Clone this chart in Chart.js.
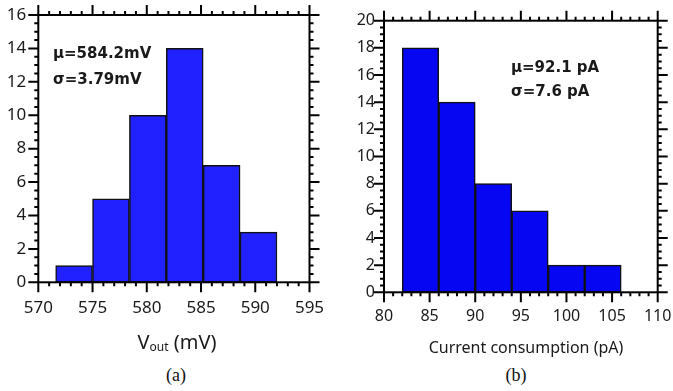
<!DOCTYPE html>
<html>
<head>
<meta charset="utf-8">
<script src="https://cdn.jsdelivr.net/npm/chart.js@4.4.1/dist/chart.umd.min.js"></script>
<style>
  html, body { margin: 0; padding: 0; background: #fff; }
  #wrap { position: relative; width: 673px; height: 391px; overflow: hidden; }
  .box { position: absolute; top: 0; height: 330px; }
  .stat { position: absolute; font: bold 15px "DejaVu Sans", sans-serif; color: #1a1a1a; white-space: nowrap; }
  .xt { position: absolute; width: 260px; text-align: center; font-family: "Noto Sans", sans-serif; color: #1a1a1a; white-space: nowrap; }
  .cap { position: absolute; width: 60px; text-align: center; font: 18px/18px "Liberation Serif", serif; color: #111; }
</style>
</head>
<body>
<div id="wrap">
  <div class="box" style="left:0;width:340px"><canvas id="chartA"></canvas></div>
  <div class="box" style="left:340px;width:333px"><canvas id="chartB"></canvas></div>

  <div class="stat" style="left:53px;top:40px;line-height:26px">μ=584.2mV<br>σ=3.79mV</div>
  <div class="stat" style="left:511px;top:55px;line-height:24px">μ=92.1 pA<br>σ=7.6 pA</div>

  <div class="xt" style="left:47px;top:332px;font-size:20px;line-height:20px">V<span style="font-size:12px;position:relative;top:2px">out</span> (mV)</div>
  <div class="xt" style="left:396px;top:339px;font-size:16px;line-height:16px">Current consumption (pA)</div>

  <div class="cap" style="left:146px;top:366px">(a)</div>
  <div class="cap" style="left:486px;top:366px">(b)</div>
</div>

<script>
// left panel: output voltage histogram
const voutCenters = [573.3, 576.7, 580.1, 583.5, 586.9, 590.3]; // bin centres, mV
const voutCounts = [1, 5, 10, 14, 7, 3];

// right panel: current consumption histogram
const currCenters = [84, 88, 92, 96, 100, 104]; // bin centres, pA
const currCounts = [18, 14, 8, 6, 2, 2];

// frame with outward major/minor ticks on all four sides
const frameTicks = {
    id: 'frameTicks',
    afterDatasetsDraw(chart, args, opts) {
        const ctx = chart.ctx;
        const a = chart.chartArea;
        const x = chart.scales.x, y = chart.scales.y;
        const isMajor = (v, step) => Math.abs(v / step - Math.round(v / step)) < 1e-6;
        ctx.save();
        ctx.strokeStyle = '#000';
        ctx.lineWidth = 2;
        ctx.strokeRect(a.left, a.top, a.right - a.left, a.bottom - a.top);
        ctx.beginPath();
        for (let v = x.min; v <= x.max + 1e-6; v += opts.xMinor) {
            const px = x.getPixelForValue(v);
            const len = isMajor(v, opts.xMajor) ? 10 : 4;
            ctx.moveTo(px, a.bottom); ctx.lineTo(px, a.bottom + len);
            ctx.moveTo(px, a.top); ctx.lineTo(px, a.top - len);
        }
        for (let v = y.min; v <= y.max + 1e-6; v += opts.yMinor) {
            const py = y.getPixelForValue(v);
            const len = isMajor(v, opts.yMajor) ? 10 : 4;
            ctx.moveTo(a.left, py); ctx.lineTo(a.left - len, py);
            ctx.moveTo(a.right, py); ctx.lineTo(a.right + len, py);
        }
        ctx.stroke();
        ctx.restore();
    }
};

function histChart(id, centers, counts, cfg) {
    const ctx = document.getElementById(id).getContext('2d');
    return new Chart(ctx, {
        type: 'bar',
        data: {
            datasets: [{
                data: centers.map((c, i) => ({ x: c, y: counts[i] })),
                backgroundColor: cfg.color,
                borderColor: '#111',
                borderWidth: 1.5,
                borderSkipped: false,
                barPercentage: 1,
                categoryPercentage: 1
            }]
        },
        options: {
            responsive: true,
            maintainAspectRatio: false,
            animation: false,
            layout: { padding: cfg.padding },
            plugins: {
                legend: { display: false },
                tooltip: { enabled: false },
                frameTicks: cfg.ticks
            },
            scales: {
                x: {
                    type: 'linear',
                    offset: false,
                    min: cfg.xMin,
                    max: cfg.xMax,
                    grid: { display: false, drawTicks: false, offset: false },
                    border: { display: false },
                    ticks: {
                        stepSize: cfg.xStep,
                        maxRotation: 0,
                        padding: cfg.xPad,
                        color: '#1a1a1a',
                        font: { family: 'Noto Sans', size: cfg.fontSize }
                    },
                    // fixed axis box, labels may overhang the edges
                    afterFit: s => { s.height = cfg.xHeight; s.paddingLeft = 0; s.paddingRight = 0; }
                },
                y: {
                    min: 0,
                    max: cfg.yMax,
                    grid: { display: false, drawTicks: false },
                    border: { display: false },
                    ticks: {
                        stepSize: 2,
                        padding: cfg.yPad,
                        color: '#1a1a1a',
                        font: { family: 'Noto Sans', size: cfg.fontSize }
                    },
                    afterFit: s => { s.width = cfg.yWidth; s.paddingTop = 0; s.paddingBottom = 0; }
                }
            }
        },
        plugins: [frameTicks]
    });
}

histChart('chartA', voutCenters, voutCounts, {
    color: '#2121ff',
    padding: { left: 0, right: 30.5, top: 15, bottom: 0 },
    xMin: 570, xMax: 595, xStep: 5, yMax: 16,
    xPad: 16, yPad: 12, fontSize: 17,
    xHeight: 47.7, yWidth: 38.3,
    ticks: { xMinor: 1, xMajor: 5, yMinor: 0.5, yMajor: 2 }
});

histChart('chartB', currCenters, currCounts, {
    color: '#0606f2',
    padding: { left: 0, right: 15.3, top: 20.7, bottom: 0 },
    xMin: 80, xMax: 110, xStep: 5, yMax: 20,
    xPad: 15, yPad: 9, fontSize: 16,
    xHeight: 37.7, yWidth: 44,
    ticks: { xMinor: 1, xMajor: 5, yMinor: 0.5, yMajor: 2 }
});
</script>
</body>
</html>
